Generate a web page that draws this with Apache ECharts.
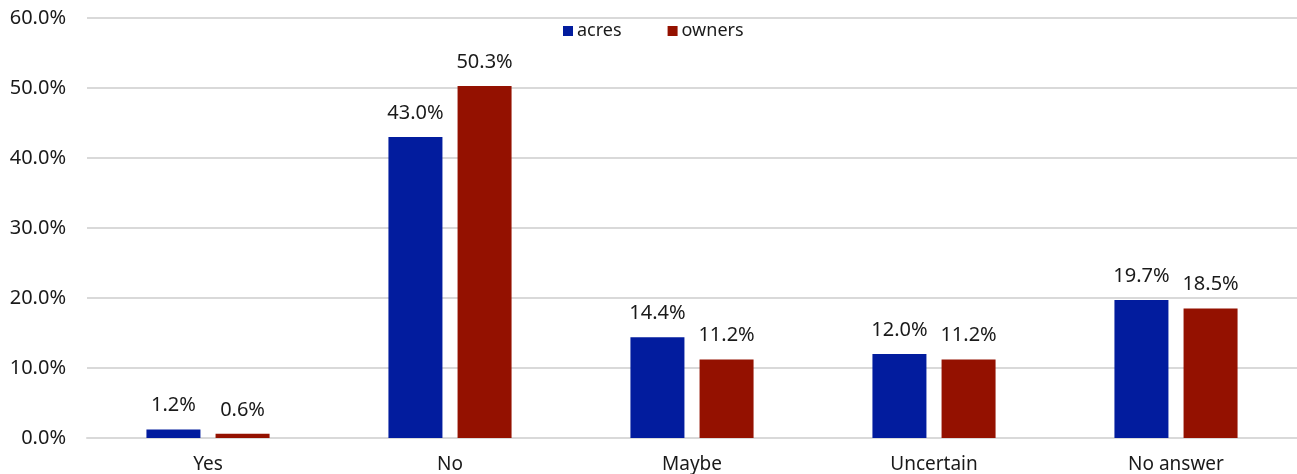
<!DOCTYPE html>
<html>
<head>
<meta charset="utf-8">
<script src="https://cdn.jsdelivr.net/npm/echarts@6/dist/echarts.min.js"></script>
<style>html,body{margin:0;padding:0;background:#fff}#c{width:1297px;height:474px}</style>
</head>
<body>
<div id="c"></div>
<script>
const categories = ['Yes', 'No', 'Maybe', 'Uncertain', 'No answer'];
const acres = [1.2, 43.0, 14.4, 12.0, 19.7];
const owners = [0.6, 50.3, 11.2, 11.2, 18.5];
const seriesNames = ['acres', 'owners'];
const colors = ['#021c9e', '#941100'];

const FONT = 'Noto Sans';
const chart = echarts.init(document.getElementById('c'), null, {renderer: 'canvas'});
const labelCfg = {
  show: true, position: 'top', distance: 14,
  color: '#1a1a1a', fontFamily: FONT, fontSize: 20,
  formatter: p => p.value.toFixed(1) + '%'
};
chart.setOption({
  animation: false,
  textStyle: {fontFamily: FONT},
  legend: {
    top: 17, left: 558, itemWidth: 10, itemHeight: 10, itemGap: 46,
    icon: 'rect',
    textStyle: {fontFamily: FONT, fontSize: 18, color: '#1a1a1a', padding: [0,0,0,-1]},
    data: seriesNames
  },
  grid: {left: 87, top: 18, width: 1217, height: 420, containLabel: false},
  xAxis: {
    type: 'category', data: categories,
    axisLine: {lineStyle: {color: '#d9d9d9', width: 2}},
    axisTick: {show: false},
    axisLabel: {color: '#1a1a1a', fontFamily: FONT, fontSize: 19, margin: 17}
  },
  yAxis: {
    type: 'value', min: 0, max: 60, interval: 10,
    axisLine: {show: false}, axisTick: {show: false},
    splitLine: {lineStyle: {color: '#d9d9d9', width: 2}},
    axisLabel: {color: '#1a1a1a', fontFamily: FONT, fontSize: 20, margin: 21,
      formatter: v => v.toFixed(1) + '%'}
  },
  series: [
    {name: seriesNames[0], type: 'bar', data: acres, barWidth: 54, barGap: '28%',
     itemStyle: {color: colors[0]}, label: labelCfg},
    {name: seriesNames[1], type: 'bar', data: owners, barWidth: 54, barGap: '28%',
     itemStyle: {color: colors[1]}, label: labelCfg}
  ]
});
</script>
</body>
</html>
